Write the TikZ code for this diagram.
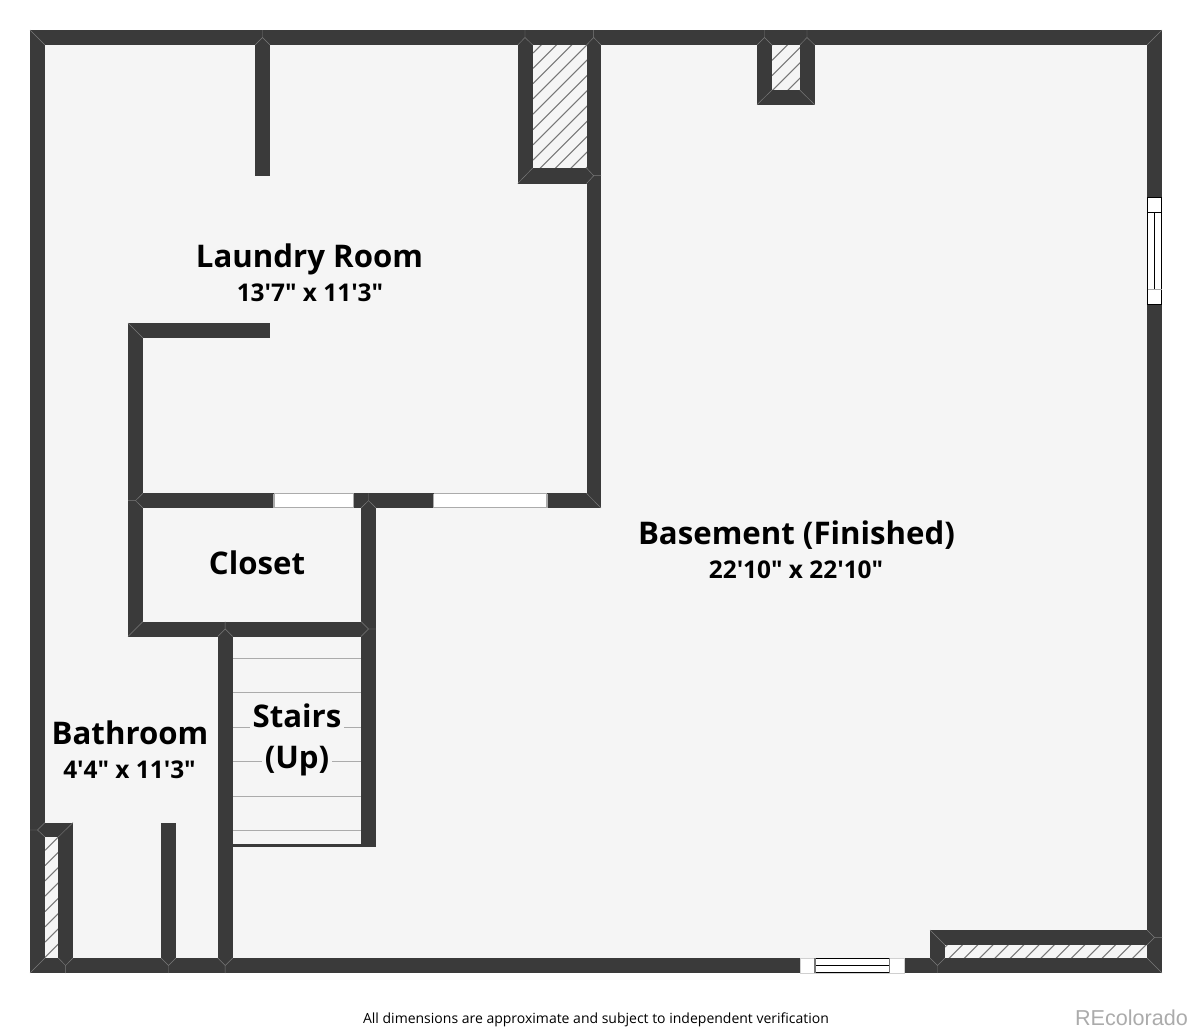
\documentclass[tikz,border=0pt]{standalone}
\usepackage{fontspec}
\newfontfamily\planfont{Open Sans}
\newfontfamily\markfont{Liberation Sans}
\definecolor{wallc}{HTML}{3A3A3A}
\definecolor{floorc}{HTML}{F5F5F5}
\definecolor{hatchc}{HTML}{777777}
\definecolor{treadc}{HTML}{ABABAB}
\definecolor{seamc}{HTML}{7A7A7A}
\tikzset{
  wall/.style={fill=wallc,draw=none},
  opening/.style={fill=white,draw=none},
  hatchline/.style={draw=hatchc,line width=0.8pt},
  tread/.style={draw=treadc,line width=0.9pt},
  edge/.style={draw=treadc,line width=0.8pt},
  sash/.style={draw=black,line width=0.75pt},
  seam/.style={draw=seamc,line width=0.35pt},
  roomname/.style={anchor=base,font=\planfont\bfseries\fontsize{23.4}{26}\selectfont,text=black,inner sep=0pt},
  roomsize/.style={anchor=base,font=\planfont\bfseries\fontsize{18.3}{20}\selectfont,text=black,inner sep=0pt},
  stairname/.style={roomname,fill=floorc,inner xsep=2pt,inner ysep=1pt},
}
% hatch: \hatchbox{x0}{y0}{x1}{y1}{phase}
\newcommand{\hatchbox}[5]{%
  \begin{scope}
    \clip (#1,#2) rectangle (#3,#4);
    \foreach \k in {0,...,30}{
      \pgfmathsetmacro{\cc}{#5+15.3*\k}
      \draw[hatchline] (#1,\cc-#1) -- (#1+300,\cc-#1-300);
    }
  \end{scope}}
\begin{document}
\begin{tikzpicture}[x=0.75pt,y=-0.75pt]
\useasboundingbox (0,0) rectangle (1192,1033);
% floor
\fill[floorc] (30,30) rectangle (1162,973);
% hatched chases
\hatchbox{533}{45}{587}{168}{586}
\hatchbox{772}{45}{800}{90}{817}
\hatchbox{45}{837}{58.3}{958}{880}
\hatchbox{945}{945}{1147}{958}{1892}
% stair treads
\foreach \ty in {658.3,692.7,727.3,761.7,796.3,830.7}
  \draw[tread] (233,\ty) -- (361,\ty);
% outer walls
\fill[wall] (30,30) rectangle (1162,45);
\fill[wall] (30,30) rectangle (45,973);
\fill[wall] (1147,30) rectangle (1162,973);
\fill[wall] (30,958) rectangle (1162,973);
% laundry partition
\fill[wall] (255,45) rectangle (270,176);
% chimney chase
\fill[wall] (517.7,45) rectangle (532.7,183.5);
\fill[wall] (517.7,168) rectangle (601,183.5);
\fill[wall] (586.5,45) rectangle (601,508);
% small chase
\fill[wall] (757,45) rectangle (772,104.7);
\fill[wall] (757,90) rectangle (814.7,104.7);
\fill[wall] (799.7,45) rectangle (814.7,104.7);
% laundry and closet walls
\fill[wall] (128,323) rectangle (270,338);
\fill[wall] (128,323) rectangle (143,636.5);
\fill[wall] (128,493.3) rectangle (601,508);
\fill[wall] (128,621.5) rectangle (376,636.5);
\fill[wall] (361,493.3) rectangle (376,847);
\fill[wall] (217.7,621.5) rectangle (232.7,973);
\fill[wall] (232.7,844) rectangle (376,847);
% bathroom walls
\fill[wall] (30,822.5) rectangle (73,837);
\fill[wall] (58.3,822.5) rectangle (73,973);
\fill[wall] (161,822.5) rectangle (176,973);
% bottom right chase
\fill[wall] (930,930) rectangle (1162,945);
\fill[wall] (930,930) rectangle (945,973);
% door openings
\fill[opening] (274,493.3) rectangle (353.5,508);
\fill[opening] (433.5,493.3) rectangle (547,508);
\foreach \dx/\dy in {274/353.5,433.5/547}{
  \draw[edge] (\dx,493.5) -- (\dy,493.5) (\dx,507.8) -- (\dy,507.8);
  \draw[edge] (\dx,493.5) -- (\dx,507.8) (\dy,493.5) -- (\dy,507.8);
}
% right window
\fill[opening] (1147.5,197.3) rectangle (1161.5,304);
\draw[sash] (1147.5,197.3) rectangle (1161.5,304);
\draw[sash] (1147.5,212) -- (1161.5,212);
\draw[sash] (1154.5,212) -- (1154.5,289.5);
\draw[edge] (1147.5,289.5) -- (1161.5,289.5);
% bottom window
\fill[opening] (800,958) rectangle (904,973);
\draw[draw=floorc!85!black,line width=0.4pt] (800,958) rectangle (904,973);
\draw[sash] (815,958.3) -- (889.5,958.3) (815,972.3) -- (889.5,972.3);
\draw[sash] (815,965.3) -- (889.5,965.3);
\draw[draw=hatchc,line width=0.8pt] (815,958) -- (815,972.7) (889.5,958) -- (889.5,972.7);
% wall seams
\draw[seam] (30,30) -- (45,45) (1162,30) -- (1147,45) (30,973) -- (45,958) (1162,973) -- (1147,958);
\draw[seam] (262.5,30) -- (262.5,37.5) -- (255,45) (262.5,37.5) -- (270,45);
\draw[seam] (525,30) -- (525,37.5) -- (517.7,45) (525,37.5) -- (532.7,45);
\draw[seam] (593.7,30) -- (593.7,37.5) -- (586.5,45) (593.7,37.5) -- (601,45);
\draw[seam] (764.5,30) -- (764.5,37.5) -- (757,45) (764.5,37.5) -- (772,45);
\draw[seam] (807,30) -- (807,37.5) -- (799.7,45) (807,37.5) -- (814.7,45);
\draw[seam] (517.7,183.5) -- (532.7,168) (586.5,168) -- (593.7,175.7) -- (601,175.7) (593.7,175.7) -- (586.5,183.5);
\draw[seam] (757,104.7) -- (772,90) (814.7,104.7) -- (799.7,90);
\draw[seam] (601,508) -- (586.5,493.3);
\draw[seam] (128,323) -- (143,338);
\draw[seam] (128,500.6) -- (135.5,500.6) -- (143,493.3) (135.5,500.6) -- (143,508);
\draw[seam] (128,636.5) -- (143,621.5);
\draw[seam] (368.5,493.3) -- (368.5,500.6) -- (361,508) (368.5,500.6) -- (376,508);
\draw[seam] (225.2,621.5) -- (225.2,629) -- (217.7,636.5) (225.2,629) -- (232.7,636.5);
\draw[seam] (361,621.5) -- (368.5,629) -- (376,629) (368.5,629) -- (361,636.5);
\draw[seam] (30,830) -- (37.5,830) -- (45,822.5) (37.5,830) -- (45,837);
\draw[seam] (73,822.5) -- (58.3,837);
\draw[seam] (58.3,958) -- (65.6,965.5) -- (65.6,973) (65.6,965.5) -- (73,958);
\draw[seam] (161,958) -- (168.5,965.5) -- (168.5,973) (168.5,965.5) -- (176,958);
\draw[seam] (217.7,958) -- (225.2,965.5) -- (225.2,973) (225.2,965.5) -- (232.7,958);
\draw[seam] (930,930) -- (945,945);
\draw[seam] (1147,930) -- (1154.5,937.5) -- (1162,937.5) (1154.5,937.5) -- (1147,945);
\draw[seam] (945,958) -- (937.5,965.5) -- (937.5,973) (937.5,965.5) -- (930,958);
% labels
\node[roomname] (laundry) at (309.5,267) {Laundry Room};
\node[roomsize] (laundrysize) at (310,301) {13'7" x 11'3"};
\node[roomname] (basement) at (796.5,544) {Basement (Finished)};
\node[roomsize] (basementsize) at (796,578) {22'10" x 22'10"};
\node[roomname] (closet) at (257,574) {Closet};
\node[roomname] (bathroom) at (130,744) {Bathroom};
\node[roomsize] (bathroomsize) at (129.5,778) {4'4" x 11'3"};
\node[stairname] (stairs) at (297,727) {Stairs};
\node[stairname] (up) at (297,768) {(Up)};
\node[inner sep=0pt,font=\planfont\fontsize{10.5}{12}\selectfont,text=black] (note) at (596,1020) {All dimensions are approximate and subject to independent verification};
\node[inner sep=0pt,font=\markfont\fontsize{16.2}{18}\selectfont,text=treadc] (mark) at (1131.5,1018) {REcolorado};
\end{tikzpicture}
\end{document}
